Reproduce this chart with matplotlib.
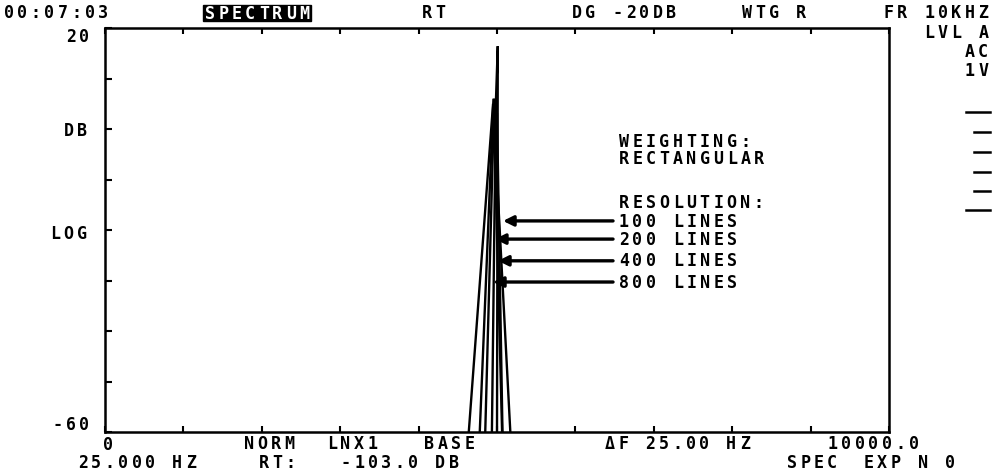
import numpy as np
import matplotlib
matplotlib.use("Agg")
import matplotlib.pyplot as plt
from matplotlib.lines import Line2D
from matplotlib.patches import Rectangle

# -----------------------------
# data (Hz, dB)
# -----------------------------
f_100 = [4640, 4950, 5170]
db_100 = [-60, 5, -60]
f_200 = [4780, 4955, 5065]
db_200 = [-60, 6, -60]
f_400 = [4850, 4965, 5000, 5070]
db_400 = [-60, 6, 3, -60]
f_800 = [4935, 4985, 5010, 5000]
db_800 = [-60, 5, 16.4, -60]

series_labels = ["100 LINES", "200 LINES", "400 LINES", "800 LINES"]
arrow_tip_f = [5077, 4974, 5013, 4949]
arrow_tip_db = [-18.2, -21.8, -26.1, -30.3]
arrow_tail_f = 6480

xmin, xmax = 0, 10000
ymin, ymax = -60, 20

W, H = 995, 477
fig = plt.figure(figsize=(W / 100, H / 100), dpi=100)
ax = fig.add_axes([105 / W, 1 - 433 / H, 784 / W, 404 / H])

for f, d in [(f_100, db_100), (f_200, db_200), (f_400, db_400), (f_800, db_800)]:
    ax.plot(f, d, color="black", lw=1.7, solid_joinstyle="miter")

ax.set_xlim(xmin, xmax)
ax.set_ylim(ymin, ymax)
ax.set_xticks(np.arange(xmin, xmax + 1, 1000))
ax.set_yticks(np.arange(ymin, ymax + 1, 10))
ax.tick_params(axis="x", direction="in", top=True, bottom=True, length=4, width=1.5,
               labelbottom=False, labeltop=False)
ax.tick_params(axis="y", direction="in", left=True, right=False, length=5, width=1.5,
               labelleft=False)
for sp in ax.spines.values():
    sp.set_linewidth(1.8)

# arrows from labels to the peaks
for tf, td in zip(arrow_tip_f, arrow_tip_db):
    ax.annotate("", xy=(tf, td), xytext=(arrow_tail_f, td),
                arrowprops=dict(arrowstyle="-|>,head_length=0.6,head_width=0.3",
                                color="black", lw=2.4, shrinkA=0, shrinkB=0))


# -----------------------------
# screen text: fixed pitch characters, pixel positions
# -----------------------------
def mono(x, y, s, ha="left", color="black", size=12, pitch=13.5):
    n = len(s)
    if ha == "right":
        x0 = x - n * pitch
    elif ha == "center":
        x0 = x - n * pitch / 2
    else:
        x0 = x
    for i, ch in enumerate(s):
        if ch == " ":
            continue
        fig.text((x0 + pitch * (i + 0.5)) / W, 1 - y / H, ch, ha="center", va="center",
                 fontsize=size, family="DejaVu Sans Mono", weight="bold", color=color)


# header
mono(2, 13, "00:07:03")
fig.patches.append(Rectangle((203 / W, 1 - 22 / H), 108 / W, 16 / H, color="black",
                             transform=fig.transFigure))
mono(203, 14, "SPECTRUM", color="white")
mono(420, 13, "RT")
mono(570, 13, "DG -20DB")
mono(740, 13, "WTG R")
mono(990, 13, "FR 10KHZ", ha="right")
mono(990, 33, "LVL A", ha="right")
mono(990, 52, "AC", ha="right")
mono(990, 71, "1V", ha="right")

# right-hand level marks
for y, x0 in [(113, 966), (133, 974), (153, 974), (173, 974), (192, 974), (211, 966)]:
    fig.add_artist(Line2D([x0 / W, 990 / W], [1 - y / H, 1 - y / H], color="black", lw=1.8))

# y axis labels
mono(91, 37, "20", ha="right")
mono(89, 131, "DB", ha="right")
mono(89, 234, "LOG", ha="right")
mono(91, 425, "-60", ha="right")

# annotation text
mono(617, 142, "WEIGHTING:")
mono(617, 159, "RECTANGULAR")
mono(617, 203, "RESOLUTION:")
for y, lab in zip([222, 240, 261, 283], series_labels):
    mono(617, y, lab)

# footer
mono(101, 445, "0")
mono(242, 444, "NORM")
mono(325, 444, "LNX1")
mono(422, 444, "BASE")
mono(603, 444, "ΔF 25.00 HZ")
mono(826, 444, "10000.0")
mono(76, 463, "25.000 HZ")
mono(257, 463, "RT:")
mono(339, 463, "-103.0 DB")
mono(785, 463, "SPEC")
mono(862, 463, "EXP N 0")

fig.savefig("out.png", dpi=100, facecolor="white")
